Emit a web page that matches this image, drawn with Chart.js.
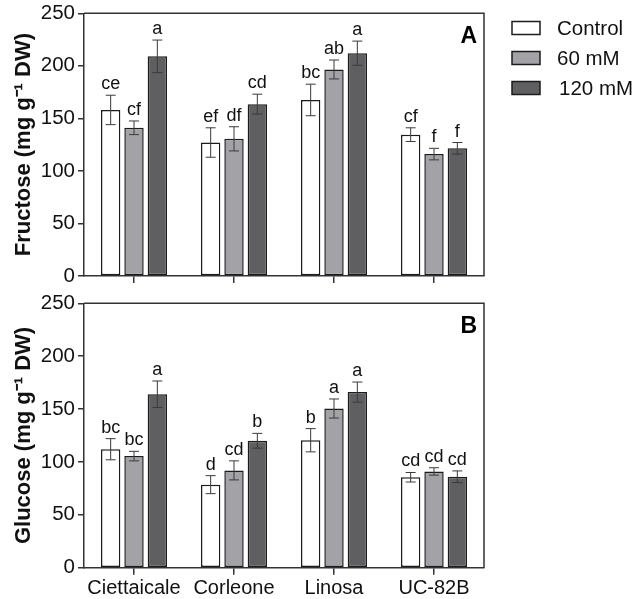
<!DOCTYPE html>
<html>
<head>
<meta charset="utf-8">
<script src="https://cdn.jsdelivr.net/npm/chart.js@4.4.0/dist/chart.umd.min.js"></script>
<style>
html,body{margin:0;padding:0;background:#fff;}
#wrap{position:relative;width:634px;height:599px;}
#c1{position:absolute;left:0;top:0;}
#c2{position:absolute;left:0;top:290px;}
</style>
</head>
<body>
<div id="wrap">
<canvas id="c1" width="634" height="290"></canvas>
<canvas id="c2" width="634" height="309"></canvas>
</div>
<script>
// ---- data ----
const categories = ['Ciettaicale', 'Corleone', 'Linosa', 'UC-82B'];
const treatments = ['Control', '60 mM', '120 mM'];
const yTicks = [0, 50, 100, 150, 200, 250];

const fructoseControl = [158, 127, 167.5, 134.5];
const fructose60      = [141, 130.5, 196.5, 116];
const fructose120     = [209, 163.5, 212, 121.5];
const fructoseErrControl = [14, 14, 15, 6.5];
const fructoseErr60      = [6.5, 11.5, 9, 5.5];
const fructoseErr120     = [15.5, 9.5, 11.5, 5.5];
const fructoseLetControl = ['ce', 'ef', 'bc', 'cf'];
const fructoseLet60      = ['cf', 'df', 'ab', 'f'];
const fructoseLet120     = ['a', 'cd', 'a', 'f'];

const glucoseControl = [112, 78.5, 120.5, 85.5];
const glucose60      = [105.5, 92, 150.5, 91];
const glucose120     = [164, 120, 166, 86];
const glucoseErrControl = [10, 8.5, 11, 4.5];
const glucoseErr60      = [4.5, 9, 9, 3.5];
const glucoseErr120     = [12.5, 7, 9.5, 5.5];
const glucoseLetControl = ['bc', 'd', 'b', 'cd'];
const glucoseLet60      = ['bc', 'cd', 'a', 'cd'];
const glucoseLet120     = ['a', 'b', 'a', 'cd'];

// ---- styles ----
const FONT = '"Liberation Sans", Arial, Helvetica, sans-serif';
const fills = ['#ffffff', '#a3a3a7', '#5f5f61'];
const edge = '#1c1c1c';
const axisColor = '#333333';

function makeDatasets(vals, errs, lets) {
  return vals.map((v, i) => ({
    label: treatments[i],
    data: v,
    errors: errs[i],
    letters: lets[i],
    backgroundColor: fills[i],
    borderColor: edge,
    borderWidth: 1.5,
    borderSkipped: false,
    categoryPercentage: 0.70,
    barPercentage: 0.83
  }));
}

const errorPlugin = {
  id: 'errs',
  afterDatasetsDraw(chart) {
    const ctx = chart.ctx;
    const y = chart.scales.y;
    ctx.save();
    chart.data.datasets.forEach((ds, di) => {
      const meta = chart.getDatasetMeta(di);
      meta.data.forEach((bar, i) => {
        const v = ds.data[i], e = ds.errors[i];
        const yt = y.getPixelForValue(v + e);
        const yb = y.getPixelForValue(v - e);
        const x = bar.x;
        ctx.strokeStyle = '#3a3a3a';
        ctx.lineWidth = 1;
        ctx.beginPath();
        ctx.moveTo(x, yt); ctx.lineTo(x, yb);
        ctx.moveTo(x - 5, yt); ctx.lineTo(x + 5, yt);
        ctx.moveTo(x - 5, yb); ctx.lineTo(x + 5, yb);
        ctx.stroke();
        ctx.fillStyle = '#111';
        ctx.font = '18px ' + FONT;
        ctx.textAlign = 'center';
        ctx.textBaseline = 'alphabetic';
        ctx.fillText(ds.letters[i], x, yt - 6);
      });
    });
    ctx.restore();
  }
};

const framePlugin = {
  id: 'frame',
  afterDraw(chart, args, opts) {
    const ctx = chart.ctx;
    const a = chart.chartArea;
    ctx.save();
    ctx.strokeStyle = axisColor;
    ctx.lineWidth = 1.5;
    ctx.beginPath();
    ctx.moveTo(a.left, a.top);
    ctx.lineTo(a.right, a.top);
    ctx.lineTo(a.right, a.bottom);
    ctx.stroke();
    // panel letter
    ctx.fillStyle = '#000';
    ctx.font = 'bold 23px ' + FONT;
    ctx.textAlign = 'right';
    ctx.textBaseline = 'alphabetic';
    ctx.fillText(opts.panel, a.right - 7, a.top + 30);
    // legend
    if (opts.legend) {
      ctx.font = '20.5px ' + FONT;
      ctx.textAlign = 'left';
      ctx.textBaseline = 'middle';
      chart.data.datasets.forEach((ds, i) => {
        const cy = 28 + i * 30;
        ctx.fillStyle = ds.backgroundColor;
        ctx.fillRect(512, cy - 6.5, 28, 13);
        ctx.strokeStyle = edge;
        ctx.lineWidth = 1.5;
        ctx.strokeRect(512, cy - 6.5, 28, 13);
        ctx.fillStyle = '#111';
        ctx.fillText(ds.label, 557 + (i === 2 ? 2 : 0), cy + 1);
      });
    }
    ctx.restore();
  }
};

function makeChart(id, vals, errs, lets, title, panel, showLabels, topPad, xHeight, legend) {
  return new Chart(document.getElementById(id), {
    type: 'bar',
    data: { labels: categories, datasets: makeDatasets(vals, errs, lets) },
    plugins: [errorPlugin, framePlugin],
    options: {
      responsive: false,
      animation: false,
      layout: { padding: { left: 0, right: 150, top: topPad, bottom: 0 } },
      plugins: {
        legend: { display: false },
        tooltip: { enabled: false },
        frame: { panel: panel, legend: legend }
      },
      scales: {
        x: {
          grid: { display: true, drawOnChartArea: false, drawTicks: true, tickLength: 7, offset: false, color: axisColor, lineWidth: 1.5 },
          border: { display: true, color: axisColor, width: 1.5 },
          ticks: { display: showLabels, color: '#111', padding: 4, font: { family: FONT, size: 20, lineHeight: 1.0 } },
          afterFit: (s) => { s.height = xHeight; }
        },
        y: {
          min: 0, max: 250,
          afterBuildTicks: (s) => { s.ticks = yTicks.map(v => ({ value: v })); },
          grid: { display: true, drawOnChartArea: false, drawTicks: true, tickLength: 6, color: axisColor, lineWidth: 1.5 },
          border: { display: true, color: axisColor, width: 1.5 },
          ticks: { color: '#111', padding: 3, font: { family: FONT, size: 20.5, lineHeight: 1.0 } },
          title: { display: true, text: title, color: '#111', padding: { top: 11, bottom: 0 }, font: { family: FONT, size: 22, weight: 'bold', lineHeight: 1.2 } },
          afterFit: (s) => { s.width = 84; }
        }
      }
    }
  });
}

makeChart('c1', [fructoseControl, fructose60, fructose120],
  [fructoseErrControl, fructoseErr60, fructoseErr120],
  [fructoseLetControl, fructoseLet60, fructoseLet120],
  'Fructose (mg g\u207B\u00B9 DW)', 'A', false, 9.5, 14, true);

makeChart('c2', [glucoseControl, glucose60, glucose120],
  [glucoseErrControl, glucoseErr60, glucoseErr120],
  [glucoseLetControl, glucoseLet60, glucoseLet120],
  'Glucose (mg g\u207B\u00B9 DW)', 'B', true, 12.7, 31.3, false);
</script>
</body>
</html>
